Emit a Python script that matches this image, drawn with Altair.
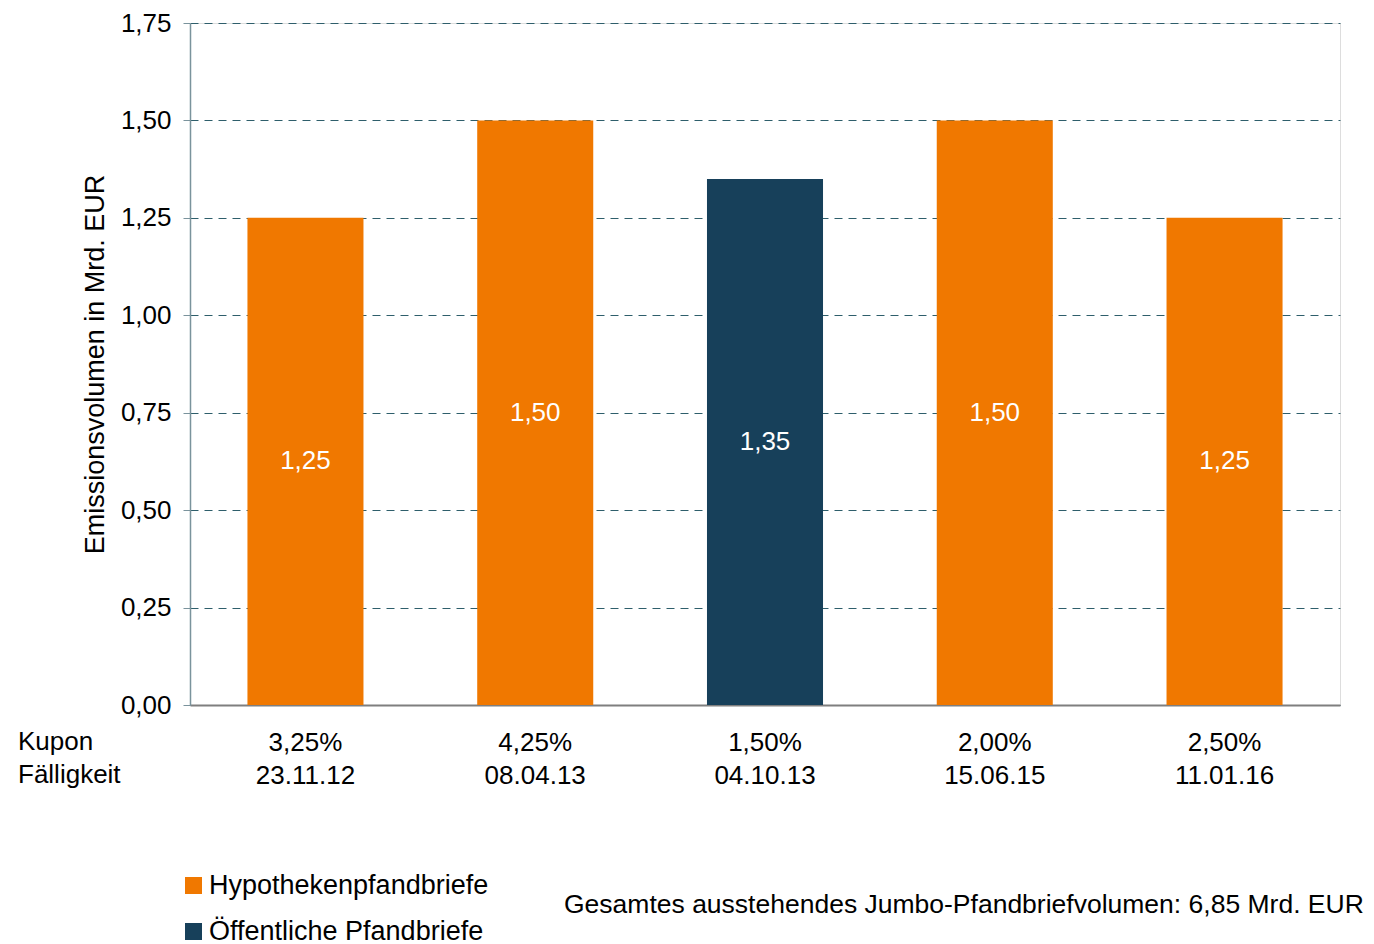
import altair as alt
import pandas as pd

coupons = ["3,25%", "4,25%", "1,50%", "2,00%", "2,50%"]
maturities = ["23.11.12", "08.04.13", "04.10.13", "15.06.15", "11.01.16"]
volumes = [1.25, 1.50, 1.35, 1.50, 1.25]
types = ["Hypothekenpfandbriefe", "Hypothekenpfandbriefe", "Öffentliche Pfandbriefe",
         "Hypothekenpfandbriefe", "Hypothekenpfandbriefe"]
type_domain = ["Hypothekenpfandbriefe", "Öffentliche Pfandbriefe"]
type_colors = ["#F07800", "#17405A"]
y_ticks = [0, 0.25, 0.5, 0.75, 1.0, 1.25, 1.5, 1.75]
row_labels = ["Kupon", "Fälligkeit"]
footnote = "Gesamtes ausstehendes Jumbo-Pfandbriefvolumen: 6,85 Mrd. EUR"

df = pd.DataFrame({
    "cat": [f"{c}|{m}" for c, m in zip(coupons, maturities)],
    "vol": volumes,
    "typ": types,
})
df["lab"] = [f"{v:.2f}".replace(".", ",") for v in volumes]
one = pd.DataFrame({"k": [0]})

FONT = "Liberation Sans"
FS = 26
FS2 = 27

x_enc = alt.X("cat:N", sort=None, title=None,
              scale=alt.Scale(paddingInner=0.495, paddingOuter=0.25),
              axis=alt.Axis(labelExpr="split(datum.value, '|')", labelFontSize=FS,
                            labelColor="#000000", labelAngle=0, labelPadding=24,
                            labelLineHeight=33, ticks=False, domainColor="#7F7F7F",
                            domainWidth=2, labelFont=FONT, grid=False))

bars = alt.Chart(df).mark_bar().encode(
    x=x_enc,
    y=alt.Y("vol:Q", title="Emissionsvolumen in Mrd. EUR",
            scale=alt.Scale(domain=[0, 1.75], nice=False),
            axis=alt.Axis(values=y_ticks,
                          labelExpr="replace(format(datum.value, '.2f'), '.', ',')",
                          labelFontSize=FS, labelColor="#000000", labelFont=FONT,
                          labelPadding=12, tickSize=7, tickColor="#7A939C",
                          domainColor="#7A939C", domainWidth=1.5,
                          grid=True, gridColor="#2E5E6B", gridDash=[8, 6], gridWidth=1,
                          titleFontSize=FS2, titleFont=FONT, titleFontWeight="normal",
                          titleColor="#000000", titlePadding=11)),
    color=alt.Color("typ:N", title=None,
                    scale=alt.Scale(domain=type_domain, range=type_colors),
                    legend=alt.Legend(orient="none", legendX=-10, legendY=849,
                                      symbolType="square", symbolSize=289,
                                      symbolStrokeWidth=0, symbolOpacity=1,
                                      labelFontSize=FS2, labelFont=FONT,
                                      labelColor="#000000", labelOffset=2,
                                      rowPadding=18, padding=0,
                                      labelLimit=400)),
)

labels = alt.Chart(df).transform_calculate(mid="datum.vol / 2").mark_text(
    color="white", fontSize=FS, font=FONT, fontWeight="normal",
    baseline="middle", align="center"
).encode(
    x=alt.X("cat:N", sort=None),
    y=alt.Y("mid:Q"),
    text="lab:N",
)

rows = alt.Chart(one).mark_text(
    text=row_labels, align="left", baseline="middle", fontSize=FS, font=FONT,
    fontWeight="normal", color="#000000", lineHeight=33
).encode(x=alt.value(-172), y=alt.value(719))

note = alt.Chart(one).mark_text(
    text=footnote, align="left", baseline="middle", fontSize=26.5, font=FONT,
    fontWeight="normal", color="#000000"
).encode(x=alt.value(374), y=alt.value(882))

chart = alt.layer(bars, labels, rows, note).properties(
    width=1150, height=682,
    autosize=alt.AutoSizeParams(type="none"),
    padding={"left": 182, "top": 15, "right": 26, "bottom": 240},
).configure_view(stroke="transparent", strokeWidth=0, strokeOpacity=0).configure(font=FONT)

chart.save("out.html", embed_options={"renderer": "svg", "actions": False})
